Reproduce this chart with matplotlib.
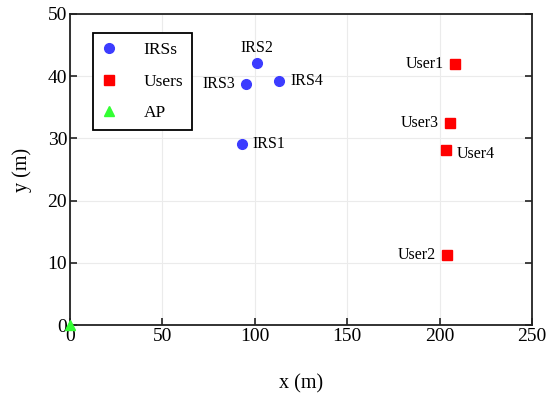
import matplotlib.pyplot as plt

plt.rcParams['font.family'] = ['Liberation Serif', 'DejaVu Serif']

irs_x = [93.3, 101.3, 95.2, 113.3]
irs_y = [29.1, 42.1, 38.7, 39.3]
irs_names = ['IRS1', 'IRS2', 'IRS3', 'IRS4']

user_x = [208.3, 204.0, 205.6, 203.3]
user_y = [41.9, 11.3, 32.5, 28.1]
user_names = ['User1', 'User2', 'User3', 'User4']

ap_x = [0]
ap_y = [0]

fig = plt.figure(figsize=(5.48, 3.94), dpi=100)
ax = fig.add_axes([70 / 548, 1 - 325 / 394, 462 / 548, 311 / 394])

ax.plot(irs_x, irs_y, 'o', color='#3c3cff', ms=7, label='IRSs', zorder=3)
ax.plot(user_x, user_y, 's', color='#ff0000', ms=7, label='Users', zorder=3)
ax.plot(ap_x, ap_y, '^', color='#33ff33', ms=7, label='AP', zorder=3, clip_on=False)

# label offsets in points
offs = {
    'IRS1': (7, 0, 'left', 'center'),
    'IRS2': (0, 11, 'center', 'center'),
    'IRS3': (-8, 0, 'right', 'center'),
    'IRS4': (8, 0, 'left', 'center'),
    'User1': (-8, 0, 'right', 'center'),
    'User2': (-8, 0, 'right', 'center'),
    'User3': (-8, 0, 'right', 'center'),
    'User4': (8, -3, 'left', 'center'),
}
for n, x, y in zip(irs_names + user_names, irs_x + user_x, irs_y + user_y):
    dx, dy, ha, va = offs[n]
    ax.annotate(n, (x, y), xytext=(dx, dy), textcoords='offset points',
                ha=ha, va=va, fontsize=11.5)

ax.set_xlim(0, 250)
ax.set_ylim(0, 50)
ax.set_xticks([0, 50, 100, 150, 200, 250])
ax.set_yticks([0, 10, 20, 30, 40, 50])
ax.grid(True, color='#ebebeb', lw=0.8)
ax.set_axisbelow(True)
ax.tick_params(direction='in', right=True, top=False, labelsize=14, width=1.2,
               length=5, color='#222222')
ax.tick_params(axis='y', pad=2)
ax.tick_params(axis='x', pad=2)
for s in ax.spines.values():
    s.set_linewidth(1.3)
    s.set_color('#222222')

ax.set_xlabel('x (m)', fontsize=14.5, labelpad=21)
ax.set_ylabel('y (m)', fontsize=14.5, labelpad=11)

leg = ax.legend(loc='upper left', bbox_to_anchor=(0.05, 0.939), fontsize=12.5,
                fancybox=False, edgecolor='black', framealpha=1,
                labelspacing=0.9, handletextpad=1.6, borderpad=0.5,
                borderaxespad=0, handlelength=0.8, markerscale=1.0)
leg.get_frame().set_linewidth(1.3)

fig.savefig('out.png', dpi=100)
